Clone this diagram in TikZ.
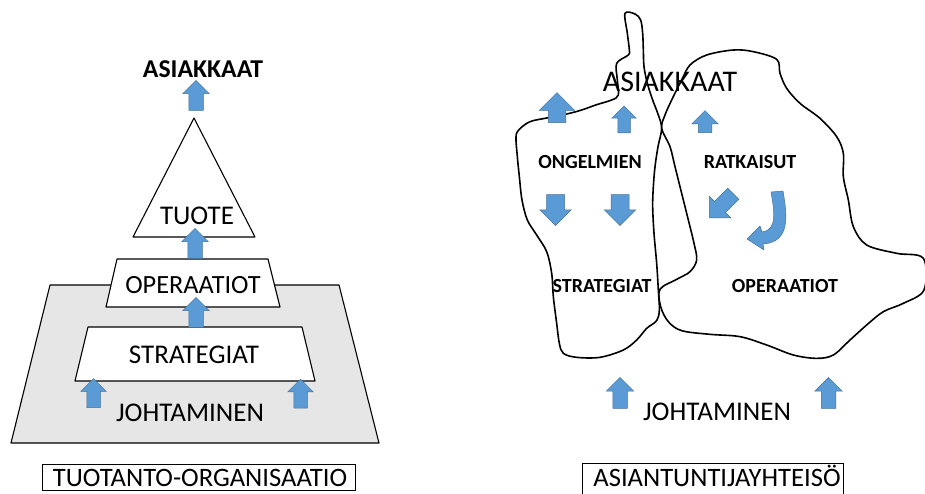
\documentclass[tikz,border=0pt]{standalone}
\usepackage{fontspec}
\setmainfont{Carlito}
\usetikzlibrary{shapes.arrows}
\definecolor{arrowblue}{RGB}{91,155,213}
\definecolor{arrowedge}{RGB}{65,113,156}
\definecolor{basegray}{RGB}{230,230,230}
\tikzset{
  % block arrow: length = minimum height, shaft = 2 x inner ysep,
  % head width = shaft + 2 x head extend
  blockarrow/.style={single arrow, draw=arrowedge, fill=arrowblue, line width=0.5pt,
    inner xsep=0pt, inner ysep=7pt, single arrow head indent=0pt,
    single arrow tip angle=90, single arrow head extend=6pt,
    minimum width=0pt, minimum height=30pt},
  upward/.style={blockarrow, rotate=90},
  downward/.style={blockarrow, rotate=-90},
  layer/.style={draw=black, line width=1.1pt, fill=white, line join=round},
  freehand/.style={draw=black, line width=1.6pt, line join=round},
  txt/.style={inner sep=0pt, font=\fontsize{#1}{#1}\selectfont},
  btxt/.style={inner sep=0pt, font=\fontsize{#1}{#1}\selectfont\bfseries},
  namebox/.style={draw=black, line width=1pt},
}
\begin{document}
\begin{tikzpicture}[x=1pt, y=-1pt]
\useasboundingbox (0,0) rectangle (925,493);

% ---------- production organisation ----------
\fill[basegray] (50,285) -- (339,285) -- (379,443) -- (11,443) -- cycle;
\draw[line width=1.1pt, line join=round] (50,285) -- (339,285) -- (379,443) -- (11,443) -- cycle;
\draw[layer] (88,327) -- (302,327) -- (315,381) -- (75,381) -- cycle;
\draw[layer] (117,259) -- (268,259) -- (280,307) -- (106,307) -- cycle;
\draw[layer] (194,118) -- (255,237) -- (133,237) -- cycle;

\node[btxt=25.7] (asiakL) at (203,69) {ASIAKKAAT};
\node[txt=27] (tuote) at (197,216) {TUOTE};
\node[txt=26.3] (operL) at (193,285) {OPERAATIOT};
\node[txt=27] (stratL) at (194,355) {STRATEGIAT};
\node[txt=27] (johtL) at (190,413) {JOHTAMINEN};

\node[upward] (uTop) at (196,99) {};
\node[upward] (uTri) at (195,247) {};
\node[upward] (uOp) at (196,316) {};
\node[upward, minimum height=29pt, inner ysep=6.5pt] (uJl) at (93.5,396.5) {};
\node[upward, minimum height=29pt, inner ysep=6.5pt] (uJr) at (300.5,397) {};

\draw[namebox] (42,464) rectangle (355,490);
\node[txt=26.6, anchor=base] (orgL) at (200,486.5) {TUOTANTO-ORGANISAATIO};

% ---------- expert community ----------
\node[txt=30] (asiakR) at (670,82) {ASIAKKAAT};

\begin{scope}[shift={(500,0)}, scale=1/3]
  % problem area
  \draw[freehand] plot[smooth cycle, tension=0.55] coordinates {
    (375,40) (405,42) (422,60) (428,100) (430,150) (432,200) (442,250) (458,300)
    (475,345) (485,385) (474,440) (465,500) (460,560) (458,620) (462,700) (470,790)
    (475,870) (478,930) (470,962) (440,985) (410,1020) (370,1050) (300,1072)
    (230,1072) (190,1060) (178,1030) (170,970) (160,890) (155,820) (140,755)
    (110,705) (82,660) (66,600) (58,530) (52,470) (48,410) (58,388) (90,365)
    (140,354) (200,342) (245,330) (290,314) (335,300) (355,285) (352,240)
    (350,190) (385,165) (388,150) (382,100)};
  % solution area
  \draw[freehand] plot[smooth cycle, tension=0.55] coordinates {
    (485,385) (510,440) (525,500) (545,580) (565,660) (582,730) (590,780)
    (570,815) (530,838) (480,868) (482,920) (505,965) (545,992) (630,1003)
    (720,1010) (800,1035) (880,1065) (950,1075) (1000,1065) (1050,1020)
    (1100,975) (1150,935) (1210,910) (1272,870) (1270,775) (1190,760)
    (1100,735) (1060,680) (1045,600) (1030,530) (1030,460) (1010,410)
    (960,355) (900,310) (860,265) (840,220) (830,178) (760,155) (700,150)
    (620,165) (570,195) (545,240) (515,300) (495,345)};
\end{scope}

\node[btxt=20] (ongel) at (590,162) {ONGELMIEN};
\node[btxt=20] (ratk) at (750,162) {RATKAISUT};
\node[btxt=20] (stratR) at (602,286) {STRATEGIAT};
\node[btxt=20] (operR) at (785,286) {OPERAATIOT};
\node[txt=27] (johtR) at (717,412) {JOHTAMINEN};

\node[upward, inner ysep=8.5pt, single arrow head extend=9pt] (vBig) at (557,112) {};
\node[upward, minimum height=27pt, inner ysep=6pt, single arrow head extend=6pt] (vUp2) at (624,122.5) {};
\node[upward, minimum height=22pt, inner ysep=6.5pt, single arrow head extend=6.5pt] (vUp3) at (705,125) {};
\node[downward, minimum height=31pt, inner ysep=8.75pt, single arrow head extend=6.75pt] (vDn1) at (555.5,205.5) {};
\node[downward, minimum height=31pt, inner ysep=8.75pt, single arrow head extend=6.75pt] (vDn2) at (620,205.5) {};
\node[blockarrow, rotate=225, minimum height=34pt, inner ysep=7.5pt, single arrow head extend=7.5pt] (vDiag) at (724,203) {};
% bent arrow turning from the solutions towards the operations
\filldraw[fill=arrowblue, draw=arrowedge, line width=0.5pt, line join=round]
  (771,192) -- (783,191) .. controls (787,215) and (791,242) .. (763,244)
  -- (764,250) -- (747,239) -- (760,226) -- (762,232)
  .. controls (778,230) and (774,210) .. (771,192) -- cycle;

\node[upward, minimum height=31pt, inner ysep=7pt, single arrow head extend=6.5pt] (vJl) at (620,396.5) {};
\node[upward, minimum height=31pt, inner ysep=7pt, single arrow head extend=6.5pt] (vJr) at (828.5,396.5) {};

\draw[namebox] (582,463) rectangle (843,494);
\node[txt=26.6, anchor=base] (orgR) at (717,486) {ASIANTUNTIJAYHTEISÖ};
\end{tikzpicture}
\end{document}
